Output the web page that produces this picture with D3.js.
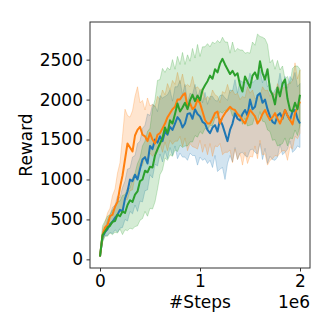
<!DOCTYPE html>
<html>
<head>
<meta charset="utf-8">
<script src="https://cdn.jsdelivr.net/npm/d3@7"></script>
<style>
  body { margin: 0; background: #fff; }
  svg text { font-family: "DejaVu Sans", sans-serif; fill: #000; }
</style>
</head>
<body>
<svg id="chart" width="332" height="332"></svg>
<script>
// steps run 0 .. 2e6, one reading every 25k steps
var steps = d3.range(0, 2000001, 25000);

var blueMean = [37,280,340,380,440,470,520,560,620,600,760,850,1000,980,1060,1000,1130,1250,1280,1200,
  1420,1380,1500,1460,1540,1480,1600,1560,1660,1620,1700,1780,1740,1650,1700,1820,1830,1760,1880,1820,
  1790,1720,1700,1620,1580,1650,1680,1600,1750,1680,1580,1480,1620,1700,1830,1760,1740,1820,1870,1800,
  2000,1880,1910,2050,2080,1960,2000,1880,1790,1720,1700,1800,1830,1760,1870,1800,1745,1850,1870,1760,1700];
var blueLo = [30,230,300,300,340,320,370,340,390,400,500,480,600,570,680,600,730,720,860,870,
  1060,1020,1190,1170,1320,1220,1360,1260,1400,1300,1420,1260,1330,1280,1280,1240,1330,1300,1300,1180,
  1280,1240,1260,1200,1240,1150,1300,1100,1130,1150,1000,1200,1300,1220,1400,1250,1330,1340,1300,1280,
  1370,1380,1340,1320,1450,1250,1390,1200,1290,1250,1240,1280,1440,1310,1340,1380,1480,1340,1370,1420,1400];
var blueHi = [45,340,390,500,560,650,680,790,770,900,980,1130,1140,1280,1300,1450,1480,1640,1680,1820,
  1800,1940,1920,1850,2050,2020,2040,2060,2120,1980,2160,2160,2240,2060,2190,1960,2080,2060,2190,2020,
  2120,1960,2090,1940,2040,2040,1990,1980,2050,2060,2020,1990,2120,2110,2250,2080,2240,2220,2220,2200,
  2330,2210,2240,2260,2370,2210,2320,2160,2200,2060,2120,2160,2330,2160,2290,2140,2290,2240,2340,2160,2200];

var orangeMean = [37,300,400,430,540,560,660,720,900,1050,1250,1450,1400,1350,1550,1620,1660,1560,1540,1480,
  1580,1500,1450,1560,1580,1640,1700,1780,1830,1880,1910,2000,2000,2050,2080,1900,1955,1880,1910,2000,
  1955,1850,1745,1700,1700,1760,1830,1850,1700,1780,1830,1870,1910,1880,1870,1820,1790,1740,1700,1780,
  1870,1830,1790,1700,1745,1820,1870,1800,1745,1780,1830,1760,1700,1780,1870,1800,1745,1690,1830,1900,1975];
var orangeLo = [30,250,340,360,420,450,540,540,600,620,750,750,860,870,1040,1050,1200,1170,1290,1200,
  1330,1290,1340,1340,1450,1340,1470,1360,1490,1440,1480,1480,1540,1410,1520,1360,1450,1410,1400,1380,
  1490,1340,1440,1310,1450,1290,1420,1410,1450,1310,1340,1340,1370,1210,1380,1250,1330,1180,1340,1200,
  1290,1280,1420,1260,1490,1310,1320,1180,1240,1260,1300,1290,1330,1360,1360,1240,1410,1380,1540,1510,1580];
var orangeHi = [45,380,460,580,640,800,880,1080,1210,1540,1880,1800,1780,1860,2040,2160,1960,1990,1870,2020,
  1920,1940,1910,2040,2000,2120,2060,2200,2120,2240,2190,2340,2200,2320,2160,2190,2160,2290,2140,2160,
  2120,2140,2000,2040,2000,2120,2060,2040,1960,2100,2080,2190,2080,2120,2060,2080,2000,2040,2020,2160,
  2080,2120,2010,2040,2040,2160,2110,2120,2040,2090,2060,2200,2120,2140,2160,2190,2200,2240,2460,2260,2370];

var greenMean = [37,300,350,400,420,470,480,560,540,600,580,680,740,720,810,850,980,1000,1110,1090,
  1160,1150,1300,1380,1450,1520,1650,1580,1740,1700,1820,1950,1850,1900,1960,1880,1990,2060,1980,2050,
  1990,2120,2180,2230,2300,2260,2380,2340,2450,2510,2440,2380,2320,2360,2300,2330,2180,2100,2290,2220,
  2150,2300,2340,2260,2480,2330,2250,2380,2120,2060,1940,2150,2040,2200,2250,2010,1870,1850,1960,1880,2060];
var greenLo = [30,210,290,290,330,310,340,330,380,310,370,360,390,380,410,420,490,510,600,540,
  640,630,720,880,1060,1120,1270,1240,1310,1290,1370,1350,1430,1400,1420,1420,1470,1470,1550,1530,
  1600,1570,1640,1620,1680,1670,1770,1770,1850,1830,1870,1850,1890,1790,1870,1770,1810,1690,1770,1670,
  1680,1690,1800,1720,1850,1730,1720,1620,1600,1490,1500,1420,1430,1450,1520,1420,1520,1510,1620,1550,1680];
var greenHi = [45,420,480,540,560,620,640,720,730,800,810,890,890,1020,1080,1200,1270,1420,1480,1600,
  1640,1880,2000,2240,2250,2390,2340,2400,2370,2500,2380,2540,2440,2590,2440,2560,2480,2640,2520,2690,
  2540,2660,2660,2700,2660,2720,2700,2740,2710,2780,2720,2720,2580,2720,2600,2640,2620,2620,2580,2590,
  2580,2720,2680,2820,2790,2780,2760,2690,2460,2500,2380,2490,2370,2420,2260,2290,2200,2390,2420,2420,2380];

var yTicks = [0, 500, 1000, 1500, 2000, 2500];
var xTicks = [0, 1e6, 2e6];

var series = [
  {color: "#1f77b4", mean: blueMean, lo: blueLo, hi: blueHi},
  {color: "#ff7f0e", mean: orangeMean, lo: orangeLo, hi: orangeHi},
  {color: "#2ca02c", mean: greenMean, lo: greenLo, hi: greenHi}
];

var svg = d3.select("#chart"),
    box = {left: 90, right: 310, top: 22, bottom: 268},
    fontSize = 17;

var x = d3.scaleLinear().domain([-100000, 2100000]).range([box.left, box.right]);
var y = d3.scaleLinear().domain([-108, 2971]).range([box.bottom, box.top]);

var area = d3.area()
    .x(function(d) { return x(d.s); })
    .y0(function(d) { return y(d.lo); })
    .y1(function(d) { return y(d.hi); });

var line = d3.line()
    .x(function(d) { return x(d.s); })
    .y(function(d) { return y(d.v); });

series.forEach(function(sr) {
  sr.rows = steps.map(function(s, i) {
    return {s: s, v: sr.mean[i], lo: sr.lo[i], hi: sr.hi[i]};
  });
});

// bands first, mean lines on top
series.forEach(function(sr) {
  svg.append("path")
      .datum(sr.rows)
      .attr("d", area)
      .attr("fill", sr.color)
      .attr("fill-opacity", 0.2)
      .attr("stroke", sr.color)
      .attr("stroke-opacity", 0.25)
      .attr("stroke-width", 1);
});
series.forEach(function(sr) {
  svg.append("path")
      .datum(sr.rows)
      .attr("d", line)
      .attr("fill", "none")
      .attr("stroke", sr.color)
      .attr("stroke-width", 2)
      .attr("stroke-linejoin", "round");
});

// frame
svg.append("rect")
    .attr("x", box.left).attr("y", box.top)
    .attr("width", box.right - box.left).attr("height", box.bottom - box.top)
    .attr("fill", "none")
    .attr("stroke", "#333")
    .attr("stroke-width", 1);

var gx = svg.append("g")
    .attr("transform", "translate(0," + box.bottom + ")")
    .call(d3.axisBottom(x).tickValues(xTicks).tickSize(3.5).tickPadding(3.5)
      .tickFormat(function(d) { return d / 1e6; }));

var gy = svg.append("g")
    .attr("transform", "translate(" + box.left + ",0)")
    .call(d3.axisLeft(y).tickValues(yTicks).tickSize(3.5).tickPadding(3.5)
      .tickFormat(d3.format("d")));

[gx, gy].forEach(function(g) {
  g.select(".domain").remove();
  g.selectAll(".tick line").attr("stroke", "#333");
  g.selectAll(".tick text")
      .attr("font-family", "DejaVu Sans")
      .attr("font-size", fontSize)
      .attr("fill", "#000");
});

svg.append("text")
    .attr("transform", "translate(32,145) rotate(-90)")
    .attr("text-anchor", "middle")
    .attr("font-size", fontSize)
    .text("Reward");

svg.append("text")
    .attr("x", 200).attr("y", 308)
    .attr("text-anchor", "middle")
    .attr("font-size", fontSize)
    .text("#Steps");

svg.append("text")
    .attr("x", 310).attr("y", 308)
    .attr("text-anchor", "end")
    .attr("font-size", fontSize)
    .text("1e6");
</script>
</body>
</html>
